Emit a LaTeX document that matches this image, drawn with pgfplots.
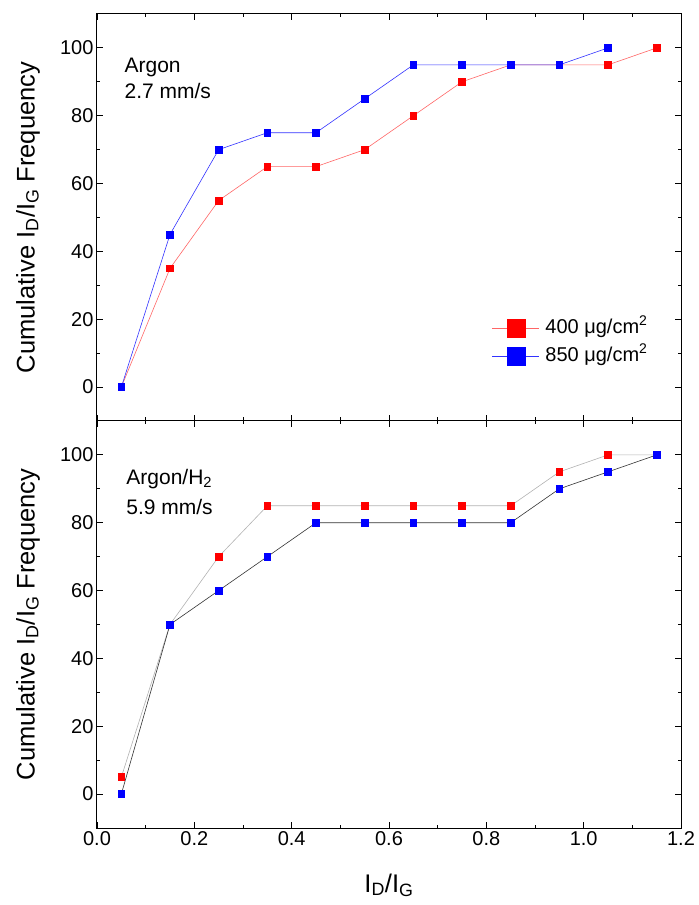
\documentclass[border=0pt]{standalone}
\usepackage{pgfplots}
\pgfplotsset{compat=1.18}
\usepackage{fontspec}
\setmainfont{Liberation Sans}
\definecolor{myred}{RGB}{255,0,0}
\definecolor{myblue}{RGB}{0,0,255}
\begin{document}
\begin{tikzpicture}
\pgfplotsset{
  every axis/.append style={
    scale only axis, width=584pt, height=407pt,
    xmin=0, xmax=1.2, ymin=-10, ymax=110,
    xtick={0,0.2,...,1.2}, minor x tick num=1,
    ytick={0,20,...,100}, minor y tick num=1,
    tick align=inside, axis line style={line width=1pt},
    major tick length=6pt, minor tick length=3.5pt,
    every tick/.style={line width=0.9pt, black},
    /pgf/number format/assume math mode=true,
    ticklabel style={font=\fontsize{20}{22}\selectfont},
    xticklabel style={/pgf/number format/fixed,/pgf/number format/fixed zerofill,/pgf/number format/precision=1},
    yticklabel style={/pgf/number format/fixed},
    every axis y label/.style={at={(axis description cs:-0.118,0.5)},rotate=90,anchor=center,font=\fontsize{25.5}{28}\selectfont},
    every axis x label/.style={at={(axis description cs:0.5,-0.14)},anchor=center,font=\fontsize{25.5}{28}\selectfont},
    clip=false,
  },
}
\begin{axis}[name=bot,
  xlabel={I\textsubscript{D}/I\textsubscript{G}},
  ylabel={Cumulative I\textsubscript{D}/I\textsubscript{G} Frequency},
]
\addplot[black!30, line width=0.6pt, mark=square*, mark size=3.4pt, mark options={myred, draw=myred}] coordinates {
(0.05,5) (0.15,50) (0.25,70) (0.35,85) (0.45,85) (0.55,85) (0.65,85) (0.75,85) (0.85,85) (0.95,95) (1.05,100) (1.15,100)};
\addplot[black!80, line width=0.6pt, mark=square*, mark size=3.4pt, mark options={myblue, draw=myblue}] coordinates {
(0.05,0) (0.15,50) (0.25,60) (0.35,70) (0.45,80) (0.55,80) (0.65,80) (0.75,80) (0.85,80) (0.95,90) (1.05,95) (1.15,100)};
\node[anchor=north west, inner sep=0pt, align=left, font=\fontsize{21}{30}\selectfont] at (axis description cs:0.05,0.882) {Argon/H\textsubscript{2}\\5.9 mm/s};
\end{axis}
\begin{axis}[at={(bot.north west)}, anchor=south west,
  xticklabels={},
  ylabel={Cumulative I\textsubscript{D}/I\textsubscript{G} Frequency},
  legend style={draw=none, fill=none, inner sep=0pt, at={(axis description cs:0.943,0.194)}, anchor=east,
    font=\fontsize{20}{22}\selectfont, row sep=8pt,
    nodes={inner sep=0pt, text height=15pt, text depth=5pt},
    /tikz/every odd column/.append style={column sep=6pt}},
  legend cell align=left,
  legend image code/.code={\draw[#1,mark=none] (0pt,0pt)--(47pt,0pt); \path[#1, mark size=9pt] plot coordinates {(24pt,0pt)};},
]
\addplot[myred!60, line width=0.6pt, mark=square*, mark size=3.4pt, mark options={myred, draw=myred}] coordinates {
(0.05,0) (0.15,35) (0.25,55) (0.35,65) (0.45,65) (0.55,70) (0.65,80) (0.75,90) (0.85,95) (0.95,95) (1.05,95) (1.15,100)};
\addlegendentry{400 μg/cm\textsuperscript{2}}
\addplot[myblue!80, line width=0.6pt, mark=square*, mark size=3.4pt, mark options={myblue, draw=myblue}] coordinates {
(0.05,0) (0.15,45) (0.25,70) (0.35,75) (0.45,75) (0.55,85) (0.65,95) (0.75,95) (0.85,95) (0.95,95) (1.05,100)};
\addlegendentry{850 μg/cm\textsuperscript{2}}
\node[anchor=north west, inner sep=0pt, align=left, font=\fontsize{21}{26}\selectfont] at (axis description cs:0.047,0.891) {Argon\\2.7 mm/s};
\end{axis}
\useasboundingbox (bot.south west) ++(-97pt,-77pt) rectangle ++(692pt,905pt);
\end{tikzpicture}
\end{document}
